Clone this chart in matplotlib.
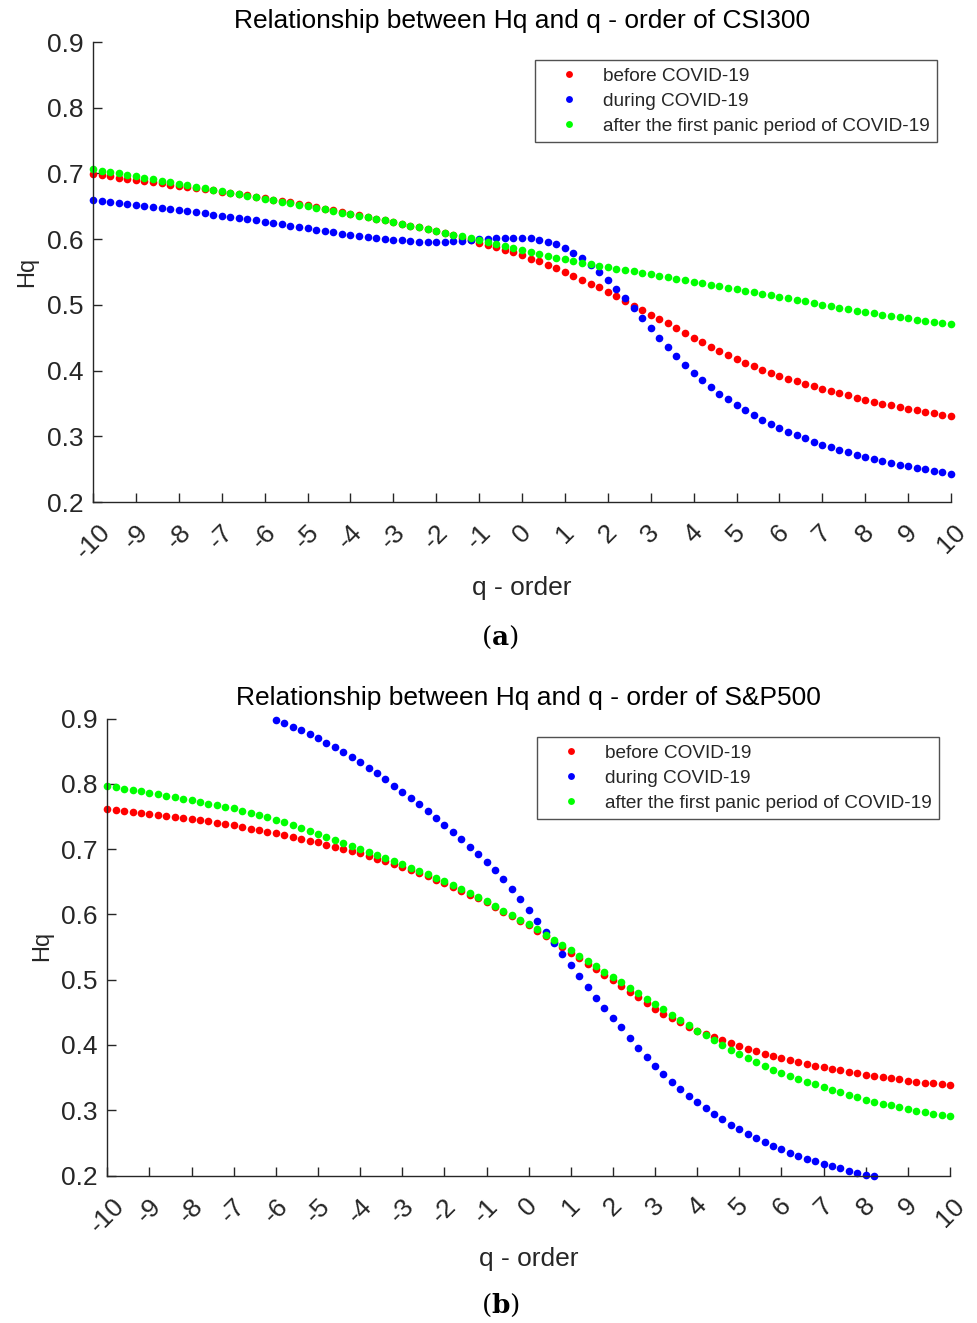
import numpy as np
import matplotlib
matplotlib.use('Agg')
import matplotlib.pyplot as plt

plt.rcParams['font.family'] = ['Liberation Sans', 'DejaVu Sans']
plt.rcParams['mathtext.fontset'] = 'dejavuserif'

# q - order grid (step 0.2)
q = np.linspace(-10, 10, 101)
q_sp_during = np.linspace(-6, 8.2, 72)   # only the visible part of that series

labels = ['before COVID-19', 'during COVID-19',
          'after the first panic period of COVID-19']
colors = ['#ff0000', '#0000ff', '#00ff00']

# ---- CSI300 ----
csi_before = [
    0.6990, 0.6972, 0.6954, 0.6937, 0.6919, 0.6901, 0.6883, 0.6865, 0.6848, 0.6830,
    0.6812, 0.6794, 0.6776, 0.6759, 0.6741, 0.6723, 0.6705, 0.6688, 0.6667, 0.6646,
    0.6625, 0.6603, 0.6581, 0.6558, 0.6535, 0.6512, 0.6488, 0.6464, 0.6440, 0.6415,
    0.6390, 0.6365, 0.6340, 0.6314, 0.6288, 0.6262, 0.6235, 0.6207, 0.6179, 0.6150,
    0.6120, 0.6089, 0.6057, 0.6022, 0.5983, 0.5940, 0.5910, 0.5875, 0.5840, 0.5800,
    0.5755, 0.5705, 0.5660, 0.5610, 0.5555, 0.5500, 0.5440, 0.5385, 0.5325, 0.5265,
    0.5200, 0.5130, 0.5055, 0.4985, 0.4920, 0.4853, 0.4788, 0.4720, 0.4650, 0.4575,
    0.4500, 0.4430, 0.4362, 0.4296, 0.4232, 0.4170, 0.4115, 0.4062, 0.4012, 0.3965,
    0.3920, 0.3878, 0.3838, 0.3800, 0.3762, 0.3725, 0.3690, 0.3655, 0.3621, 0.3588,
    0.3557, 0.3527, 0.3498, 0.3470, 0.3443, 0.3418, 0.3394, 0.3371, 0.3349, 0.3326,
    0.3305]
csi_during = [
    0.6600, 0.6585, 0.6570, 0.6555, 0.6540, 0.6525, 0.6510, 0.6490, 0.6475, 0.6460,
    0.6445, 0.6430, 0.6415, 0.6395, 0.6375, 0.6355, 0.6335, 0.6320, 0.6300, 0.6285,
    0.6265, 0.6245, 0.6225, 0.6205, 0.6185, 0.6165, 0.6145, 0.6125, 0.6105, 0.6085,
    0.6065, 0.6045, 0.6030, 0.6015, 0.6000, 0.5990, 0.5980, 0.5970, 0.5963, 0.5958,
    0.5956, 0.5958, 0.5965, 0.5975, 0.5985, 0.5995, 0.6005, 0.6010, 0.6015, 0.6015,
    0.6015, 0.6010, 0.5990, 0.5960, 0.5920, 0.5860, 0.5790, 0.5710, 0.5610, 0.5500,
    0.5380, 0.5240, 0.5100, 0.4950, 0.4800, 0.4650, 0.4500, 0.4360, 0.4220, 0.4090,
    0.3970, 0.3860, 0.3750, 0.3650, 0.3570, 0.3480, 0.3400, 0.3330, 0.3250, 0.3190,
    0.3130, 0.3070, 0.3020, 0.2970, 0.2920, 0.2870, 0.2830, 0.2790, 0.2760, 0.2720,
    0.2690, 0.2660, 0.2630, 0.2600, 0.2570, 0.2550, 0.2520, 0.2500, 0.2470, 0.2450,
    0.2430]
csi_after = [
    0.7065, 0.7043, 0.7021, 0.6999, 0.6977, 0.6955, 0.6933, 0.6911, 0.6889, 0.6867,
    0.6845, 0.6822, 0.6799, 0.6776, 0.6753, 0.6730, 0.6707, 0.6684, 0.6661, 0.6638,
    0.6615, 0.6592, 0.6569, 0.6546, 0.6523, 0.6500, 0.6476, 0.6452, 0.6428, 0.6404,
    0.6380, 0.6356, 0.6332, 0.6308, 0.6284, 0.6260, 0.6233, 0.6206, 0.6179, 0.6152,
    0.6125, 0.6097, 0.6069, 0.6041, 0.6013, 0.5985, 0.5955, 0.5925, 0.5895, 0.5865,
    0.5835, 0.5806, 0.5777, 0.5748, 0.5720, 0.5692, 0.5666, 0.5641, 0.5617, 0.5595,
    0.5574, 0.5553, 0.5532, 0.5511, 0.5490, 0.5469, 0.5446, 0.5423, 0.5400, 0.5377,
    0.5354, 0.5331, 0.5308, 0.5285, 0.5262, 0.5239, 0.5216, 0.5193, 0.5170, 0.5147,
    0.5124, 0.5100, 0.5076, 0.5052, 0.5028, 0.5004, 0.4981, 0.4958, 0.4935, 0.4912,
    0.4890, 0.4870, 0.4850, 0.4830, 0.4811, 0.4793, 0.4775, 0.4757, 0.4739, 0.4722,
    0.4705]

# ---- S&P500 ----
sp_before = [
    0.7617, 0.7603, 0.7589, 0.7575, 0.7560, 0.7545, 0.7529, 0.7513, 0.7497, 0.7481,
    0.7465, 0.7445, 0.7425, 0.7405, 0.7385, 0.7365, 0.7341, 0.7317, 0.7293, 0.7269,
    0.7245, 0.7217, 0.7189, 0.7161, 0.7133, 0.7105, 0.7071, 0.7037, 0.7003, 0.6969,
    0.6935, 0.6895, 0.6855, 0.6815, 0.6775, 0.6735, 0.6685, 0.6635, 0.6585, 0.6535,
    0.6485, 0.6425, 0.6365, 0.6305, 0.6245, 0.6185, 0.6115, 0.6045, 0.5975, 0.5905,
    0.5835, 0.5751, 0.5667, 0.5583, 0.5499, 0.5415, 0.5330, 0.5245, 0.5160, 0.5075,
    0.4990, 0.4903, 0.4816, 0.4730, 0.4640, 0.4555, 0.4480, 0.4412, 0.4345, 0.4280,
    0.4215, 0.4168, 0.4121, 0.4074, 0.4027, 0.3980, 0.3943, 0.3906, 0.3869, 0.3832,
    0.3795, 0.3767, 0.3739, 0.3711, 0.3683, 0.3655, 0.3633, 0.3611, 0.3589, 0.3567,
    0.3545, 0.3527, 0.3509, 0.3491, 0.3473, 0.3455, 0.3440, 0.3425, 0.3410, 0.3395,
    0.3380]
sp_during = [
    0.8980, 0.8930, 0.8875, 0.8820, 0.8760, 0.8700, 0.8635, 0.8570, 0.8490, 0.8415,
    0.8335, 0.8250, 0.8165, 0.8070, 0.7975, 0.7880, 0.7785, 0.7690, 0.7585, 0.7480,
    0.7375, 0.7270, 0.7160, 0.7040, 0.6925, 0.6800, 0.6675, 0.6540, 0.6390, 0.6230,
    0.6065, 0.5900, 0.5735, 0.5570, 0.5400, 0.5230, 0.5060, 0.4890, 0.4725, 0.4565,
    0.4410, 0.4270, 0.4110, 0.3960, 0.3820, 0.3680, 0.3560, 0.3440, 0.3330, 0.3220,
    0.3120, 0.3030, 0.2940, 0.2860, 0.2780, 0.2710, 0.2640, 0.2570, 0.2510, 0.2450,
    0.2400, 0.2350, 0.2300, 0.2260, 0.2220, 0.2180, 0.2140, 0.2110, 0.2070, 0.2040,
    0.2012, 0.2000]
sp_after = [
    0.7970, 0.7949, 0.7928, 0.7907, 0.7886, 0.7865, 0.7842, 0.7819, 0.7796, 0.7773,
    0.7750, 0.7725, 0.7700, 0.7675, 0.7650, 0.7625, 0.7591, 0.7557, 0.7523, 0.7489,
    0.7455, 0.7411, 0.7367, 0.7323, 0.7279, 0.7235, 0.7190, 0.7145, 0.7100, 0.7055,
    0.7010, 0.6962, 0.6914, 0.6866, 0.6818, 0.6770, 0.6718, 0.6666, 0.6614, 0.6562,
    0.6510, 0.6448, 0.6386, 0.6324, 0.6262, 0.6200, 0.6130, 0.6060, 0.5990, 0.5920,
    0.5850, 0.5770, 0.5690, 0.5610, 0.5530, 0.5450, 0.5369, 0.5288, 0.5207, 0.5126,
    0.5045, 0.4961, 0.4877, 0.4793, 0.4709, 0.4625, 0.4544, 0.4463, 0.4382, 0.4301,
    0.4220, 0.4147, 0.4074, 0.4001, 0.3928, 0.3855, 0.3797, 0.3739, 0.3681, 0.3623,
    0.3565, 0.3523, 0.3481, 0.3439, 0.3397, 0.3355, 0.3316, 0.3277, 0.3238, 0.3199,
    0.3160, 0.3131, 0.3102, 0.3073, 0.3044, 0.3015, 0.2993, 0.2971, 0.2949, 0.2927,
    0.2905]

xticks = list(range(-10, 11))
yticks = [0.2, 0.3, 0.4, 0.5, 0.6, 0.7, 0.8, 0.9]
grey = '#262626'

W, H = 977, 1323
fig = plt.figure(figsize=(W / 100, H / 100), dpi=100)


def make_axes(left, top, right, bottom):
    return fig.add_axes([left / W, 1 - bottom / H, (right - left) / W, (bottom - top) / H])


def style(ax, title, leg_anchor):
    ax.set_xlim(-10, 10)
    ax.set_ylim(0.2, 0.9)
    for s in ['top', 'right']:
        ax.spines[s].set_visible(False)
    for s in ['left', 'bottom']:
        ax.spines[s].set_color(grey)
        ax.spines[s].set_linewidth(1.0)
    ax.set_xticks(xticks)
    ax.set_xticklabels([str(t) for t in xticks], rotation=45, ha='center', va='top')
    ax.set_yticks(yticks)
    ax.set_yticklabels(['%.1f' % t for t in yticks])
    ax.tick_params(direction='in', length=6.5, width=1.0, color=grey,
                   labelsize=19, labelcolor=grey)
    ax.tick_params(axis='x', pad=13)
    ax.tick_params(axis='y', pad=7)
    ax.set_title(title, fontsize=19, pad=10, color='black')
    leg = ax.legend(loc='upper right', bbox_to_anchor=leg_anchor, borderaxespad=0,
                    fontsize=13.7, frameon=True, fancybox=False, edgecolor=grey,
                    handlelength=2.8, handletextpad=0.35, borderpad=0.4,
                    labelspacing=0.4, numpoints=1, markerscale=0.9)
    leg.get_frame().set_linewidth(1.0)
    for t in leg.get_texts():
        t.set_color(grey)


# top chart
ax1 = make_axes(93, 42, 951, 502)
for vals, c, lab in zip([csi_before, csi_during, csi_after], colors, labels):
    ax1.plot(q, vals, ls='none', marker='o', ms=5.5, mfc=c, mec=c, mew=0,
             label=lab, clip_on=False)
style(ax1, 'Relationship between Hq and q - order of CSI300', (0.9837, 0.961))

# bottom chart
ax2 = make_axes(107.3, 718.7, 950, 1175.5)
for qq, vals, c, lab in zip([q, q_sp_during, q], [sp_before, sp_during, sp_after],
                            colors, labels):
    ax2.plot(qq, vals, ls='none', marker='o', ms=5.5, mfc=c, mec=c, mew=0,
             label=lab, clip_on=False)
style(ax2, 'Relationship between Hq and q - order of S&P500', (0.987, 0.96))

# axis labels and panel tags
fig.text(27 / W, 1 - 272 / H, 'Hq', rotation=90, ha='center', va='center',
         fontsize=17, color=grey)
fig.text(522 / W, 1 - 595 / H, 'q - order', ha='center', va='baseline',
         fontsize=19, color=grey)
fig.text(42 / W, 1 - 946 / H, 'Hq', rotation=90, ha='center', va='center',
         fontsize=17, color=grey)
fig.text(529 / W, 1 - 1266 / H, 'q - order', ha='center', va='baseline',
         fontsize=19, color=grey)
fig.text(500 / W, 1 - 637 / H, r'$(\mathbf{a})$', ha='center', va='center', fontsize=19)
fig.text(500 / W, 1 - 1305 / H, r'$(\mathbf{b})$', ha='center', va='center', fontsize=19)

fig.savefig('out.png', dpi=100, facecolor='white')
